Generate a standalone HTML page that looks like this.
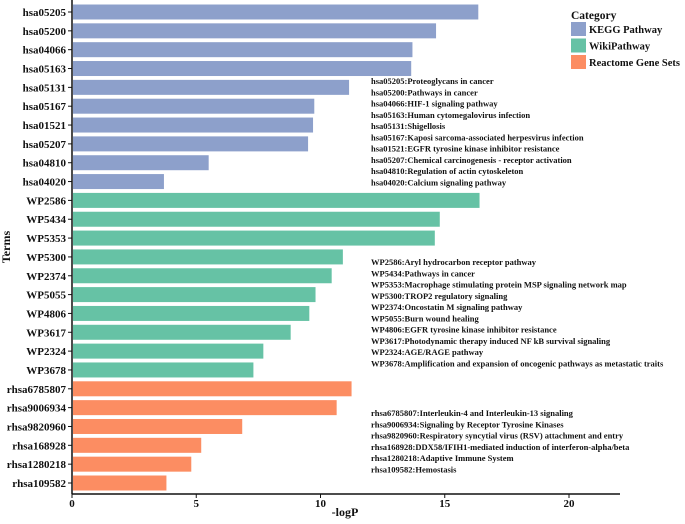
<!DOCTYPE html>
<html><head><meta charset="utf-8"><style>
body{margin:0;background:#fff;}
svg text{font-family:"Liberation Serif",serif;font-weight:bold;fill:#111;}
</style></head><body>
<svg id="chart" width="685" height="519" xmlns="http://www.w3.org/2000/svg"></svg>
<script>
const terms=["hsa05205","hsa05200","hsa04066","hsa05163","hsa05131","hsa05167","hsa01521","hsa05207","hsa04810","hsa04020","WP2586","WP5434","WP5353","WP5300","WP2374","WP5055","WP4806","WP3617","WP2324","WP3678","rhsa6785807","rhsa9006934","rhsa9820960","rhsa168928","rhsa1280218","rhsa109582"];
const values=[16.35,14.65,13.7,13.65,11.15,9.75,9.7,9.5,5.5,3.7,16.4,14.8,14.6,10.9,10.45,9.8,9.55,8.8,7.7,7.3,11.25,10.65,6.85,5.2,4.8,3.8];
const categories=[0,0,0,0,0,0,0,0,0,0,1,1,1,1,1,1,1,1,1,1,2,2,2,2,2,2];
const catNames=["KEGG Pathway","WikiPathway","Reactome Gene Sets"];
const catColors=["#8da0cb","#66c2a5","#fc8d62"];
const xTicks=[0,5,10,15,20];
const descKEGG=["hsa05205:Proteoglycans in cancer","hsa05200:Pathways in cancer","hsa04066:HIF-1 signaling pathway","hsa05163:Human cytomegalovirus infection","hsa05131:Shigellosis","hsa05167:Kaposi sarcoma-associated herpesvirus infection","hsa01521:EGFR tyrosine kinase inhibitor resistance","hsa05207:Chemical carcinogenesis - receptor activation","hsa04810:Regulation of actin cytoskeleton","hsa04020:Calcium signaling pathway"];
const descWP=["WP2586:Aryl hydrocarbon receptor pathway","WP5434:Pathways in cancer","WP5353:Macrophage stimulating protein MSP signaling network map","WP5300:TROP2 regulatory signaling","WP2374:Oncostatin M signaling pathway","WP5055:Burn wound healing","WP4806:EGFR tyrosine kinase inhibitor resistance","WP3617:Photodynamic therapy induced NF kB survival signaling","WP2324:AGE/RAGE pathway","WP3678:Amplification and expansion of oncogenic pathways as metastatic traits"];
const descR=["rhsa6785807:Interleukin-4 and Interleukin-13 signaling","rhsa9006934:Signaling by Receptor Tyrosine Kinases","rhsa9820960:Respiratory syncytial virus (RSV) attachment and entry","rhsa168928:DDX58/IFIH1-mediated induction of interferon-alpha/beta","rhsa1280218:Adaptive Immune System","rhsa109582:Hemostasis"];

const NS="http://www.w3.org/2000/svg";
const svg=document.getElementById('chart');
const x0=72,pxPerUnit=24.85,xEnd=620,axisY=494,topY=12,step=18.84,barH=15;
const xs=v=>x0+v*pxPerUnit;
const ys=i=>topY+i*step;
function el(tag,attrs,parent){const e=document.createElementNS(NS,tag);for(const k in attrs)e.setAttribute(k,attrs[k]);(parent||svg).appendChild(e);return e;}

terms.forEach((t,i)=>{
  const r=el('rect',{x:x0+1,y:ys(i)-barH/2,width:xs(values[i])-x0-1,height:barH,fill:catColors[categories[i]]});
  
  
  const tk=el('line',{x1:x0-4,x2:x0,y1:ys(i),y2:ys(i),stroke:'#111','stroke-width':1});
  
  
  const lb=el('text',{x:x0-6,y:ys(i)+4,'text-anchor':'end','font-size':'11'});
  lb.textContent=t;
  
  
});
const ya=el('line',{x1:x0,x2:x0,y1:0,y2:axisY,stroke:'#111','stroke-width':1.5});


const xa=el('line',{x1:x0,x2:xEnd,y1:axisY,y2:axisY,stroke:'#111','stroke-width':1.5});


xTicks.forEach(v=>{
  const t=el('line',{x1:xs(v),x2:xs(v),y1:axisY,y2:axisY+4,stroke:'#111'});
  
  
  const l=el('text',{x:xs(v),y:axisY+13,'text-anchor':'middle','font-size':'11'});
  l.textContent=v;
  
  
});
const xt=el('text',{x:345,y:516,'text-anchor':'middle','font-size':'12'});
xt.textContent='-logP';


const yt=el('text',{x:0,y:0,'text-anchor':'middle','font-size':'12',transform:'translate(10,247) rotate(-90)'});
yt.textContent='Terms';



function block(lines,y0,name){
  lines.forEach((s,i)=>{
    const t=el('text',{x:371,y:y0+i*11.25,'font-size':'8.5'});
    t.textContent=s;
    
    
  });
}
block(descKEGG,84,'kegg-description');
block(descWP,265,'wiki-description');
block(descR,416,'reactome-description');

const lt=el('text',{x:571,y:19,'font-size':'11.5'});
lt.textContent='Category';


catNames.forEach((n,i)=>{
  const r=el('rect',{x:571,y:22+i*16.5,width:15,height:14,fill:catColors[i]});
  
  
  const t=el('text',{x:589,y:33+i*16.5,'font-size':'10.5'});
  t.textContent=n;
  
  
});
</script>
</body></html>
